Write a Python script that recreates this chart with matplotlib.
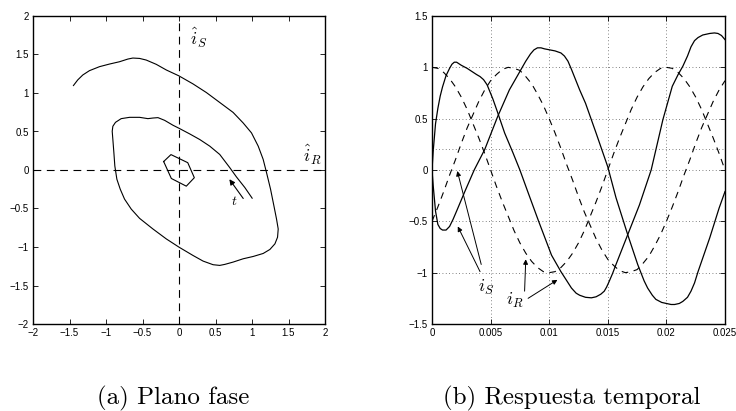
import matplotlib
matplotlib.use("Agg")
import matplotlib.pyplot as plt

plt.rcParams['mathtext.fontset'] = 'cm'
plt.rcParams['font.family'] = ['Liberation Sans', 'DejaVu Sans']

# ---------------- (a) phase plane data ----------------
spiral_x = [-1.446, -1.387, -1.318, -1.227, -1.089, -0.952, -0.815, -0.700, -0.632, -0.540,
            -0.449, -0.311, -0.174, 0.0, 0.192, 0.375, 0.558, 0.741, 0.879, 0.993,
            1.085, 1.153, 1.199, 1.254, 1.300, 1.336, 1.359, 1.350, 1.314, 1.245,
            1.153, 1.016, 0.879, 0.741, 0.627, 0.558, 0.467, 0.330, 0.192, 0.0,
            -0.174, -0.357, -0.540, -0.654, -0.746, -0.805, -0.851, -0.879, -0.892, -0.906,
            -0.915, -0.906, -0.870, -0.792, -0.677, -0.540, -0.426, -0.357, -0.288, -0.197,
            -0.082, 0.0, 0.146, 0.284, 0.421, 0.558, 0.696, 0.787, 0.902, 1.002]
spiral_y = [1.097, 1.170, 1.234, 1.290, 1.342, 1.376, 1.406, 1.441, 1.454, 1.449,
            1.428, 1.372, 1.299, 1.222, 1.118, 1.006, 0.877, 0.748, 0.611, 0.482,
            0.310, 0.138, -0.034, -0.249, -0.465, -0.637, -0.766, -0.873, -0.959, -1.032,
            -1.084, -1.123, -1.153, -1.196, -1.226, -1.239, -1.230, -1.183, -1.110, -1.002,
            -0.895, -0.766, -0.628, -0.508, -0.378, -0.249, -0.120, 0.052, 0.224, 0.396,
            0.503, 0.568, 0.619, 0.667, 0.684, 0.684, 0.667, 0.675, 0.680, 0.645,
            0.581, 0.542, 0.469, 0.396, 0.310, 0.202, 0.030, -0.090, -0.228, -0.366]
hex_x = [-0.21, -0.11, 0.12, 0.21, 0.10, -0.105, -0.21]
hex_y = [0.11, 0.20, 0.095, -0.10, -0.21, -0.11, 0.11]

# ---------------- (b) time response data ----------------
t_ref = [i * 0.0005 for i in range(51)]
ref1 = [1.00, 0.99, 0.95, 0.89, 0.81, 0.71, 0.59, 0.45, 0.31, 0.16, 0.00,
        -0.16, -0.31, -0.45, -0.59, -0.71, -0.81, -0.89, -0.95, -0.99, -1.00,
        -0.99, -0.95, -0.89, -0.81, -0.71, -0.59, -0.45, -0.31, -0.16, 0.00,
        0.16, 0.31, 0.45, 0.59, 0.71, 0.81, 0.89, 0.95, 0.99, 1.00,
        0.99, 0.95, 0.89, 0.81, 0.71, 0.59, 0.45, 0.31, 0.16, 0.00]
ref2 = [-0.50, -0.36, -0.21, -0.05, 0.10, 0.26, 0.41, 0.54, 0.67, 0.78, 0.87,
        0.93, 0.98, 1.00, 0.99, 0.97, 0.91, 0.84, 0.74, 0.63, 0.50,
        0.36, 0.21, 0.05, -0.10, -0.26, -0.41, -0.54, -0.67, -0.78, -0.87,
        -0.93, -0.98, -1.00, -0.99, -0.97, -0.91, -0.84, -0.74, -0.63, -0.50,
        -0.36, -0.21, -0.05, 0.10, 0.26, 0.41, 0.54, 0.67, 0.78, 0.87]

tA = [0, 0.0001, 0.0003, 0.0005, 0.0007, 0.0009, 0.0012, 0.0015, 0.0017, 0.0019, 0.0021,
      0.0025, 0.0030, 0.0034, 0.0038, 0.0041, 0.0044, 0.0047, 0.0052, 0.0056, 0.0062,
      0.0069, 0.0075, 0.0082, 0.0091, 0.0102, 0.0110, 0.0119, 0.0123, 0.0126, 0.0131,
      0.0136, 0.0140, 0.0144, 0.0147, 0.0149, 0.0151, 0.0154, 0.0157, 0.0167, 0.0177,
      0.0187, 0.0197, 0.0205, 0.0210, 0.0214, 0.0218, 0.0221, 0.0224, 0.0227, 0.0231,
      0.0237, 0.0241, 0.0244, 0.0247, 0.0250]
yA = [0.0, 0.18, 0.45, 0.60, 0.72, 0.81, 0.92, 0.99, 1.03, 1.05, 1.05,
      1.02, 0.99, 0.96, 0.93, 0.91, 0.88, 0.83, 0.69, 0.56, 0.36,
      0.17, 0.0, -0.22, -0.50, -0.83, -0.99, -1.15, -1.20, -1.22, -1.24,
      -1.245, -1.235, -1.21, -1.18, -1.14, -1.09, -1.01, -0.92, -0.63, -0.34,
      0.0, 0.49, 0.815, 0.93, 1.01, 1.11, 1.20, 1.26, 1.29, 1.315,
      1.33, 1.335, 1.33, 1.31, 1.27]
tB = [0, 0.0001, 0.0003, 0.0005, 0.0007, 0.0009, 0.0012, 0.0015, 0.0018, 0.0021, 0.0028,
      0.0036, 0.0045, 0.0056, 0.0066, 0.0075, 0.0080, 0.0084, 0.0087, 0.0090, 0.0093,
      0.0096, 0.0105, 0.0110, 0.0113, 0.0116, 0.0119, 0.0126, 0.0131, 0.0140, 0.0150,
      0.0157, 0.0167, 0.01755, 0.0181, 0.0184, 0.0188, 0.0191, 0.0196, 0.0200, 0.0204,
      0.0207, 0.0211, 0.0214, 0.0218, 0.0221, 0.0224, 0.0227, 0.0237, 0.0245, 0.0250]
yB = [0.0, -0.15, -0.40, -0.53, -0.57, -0.585, -0.585, -0.55, -0.48, -0.40, -0.21,
      0.0, 0.20, 0.52, 0.78, 0.96, 1.06, 1.13, 1.17, 1.19, 1.19,
      1.18, 1.16, 1.14, 1.11, 1.06, 0.98, 0.78, 0.65, 0.36, 0.03,
      -0.27, -0.63, -0.92, -1.08, -1.15, -1.22, -1.26, -1.29, -1.30, -1.31,
      -1.31, -1.30, -1.28, -1.24, -1.18, -1.10, -0.99, -0.66, -0.37, -0.21]

ticks_a = [-2, -1.5, -1, -0.5, 0, 0.5, 1, 1.5, 2]
ticklabels_a = ['\u22122', '\u22121.5', '\u22121', '\u22120.5', '0', '0.5', '1', '1.5', '2']
xticks_b = [0, 0.005, 0.01, 0.015, 0.02, 0.025]
xticklabels_b = ['0', '0.005', '0.01', '0.015', '0.02', '0.025']
yticks_b = [-1.5, -1, -0.5, 0, 0.5, 1, 1.5]
yticklabels_b = ['\u22121.5', '\u22121', '\u22120.5', '0', '0.5', '1', '1.5']

W, H = 736, 411
fig = plt.figure(figsize=(W / 100, H / 100), dpi=100)

def style(ax):
    ax.tick_params(direction='in', top=True, right=True, length=3.5, width=0.6,
                   labelsize=7, pad=3)
    for s in ax.spines.values():
        s.set_linewidth(1.0)

# ---- left panel ----
ax1 = fig.add_axes([33 / W, (H - 324) / H, 292 / W, 308 / H])
ax1.plot(spiral_x, spiral_y, color='black', lw=0.8)
ax1.plot(hex_x, hex_y, color='black', lw=0.8)
ax1.axhline(0, color='black', lw=0.8, ls=(0, (7, 5)))
ax1.axvline(0, color='black', lw=0.8, ls=(0, (7, 5)))
ax1.set_xlim(-2, 2)
ax1.set_ylim(-2, 2)
ax1.set_xticks(ticks_a)
ax1.set_xticklabels(ticklabels_a)
ax1.set_yticks(ticks_a)
ax1.set_yticklabels(ticklabels_a)
style(ax1)
ax1.annotate('', xy=(0.69, -0.12), xytext=(0.88, -0.37),
             arrowprops=dict(arrowstyle='-|>', color='black', lw=0.8,
                             mutation_scale=8, shrinkA=0, shrinkB=0))
ax1.text(0.76, -0.40, '$t$', fontsize=10, ha='center', va='center')
ax1.text(0.27, 1.72, r'$\hat{i}_S$', fontsize=13, ha='center', va='center')
ax1.text(1.82, 0.19, r'$\hat{i}_R$', fontsize=13, ha='center', va='center')

# ---- right panel ----
ax2 = fig.add_axes([432 / W, (H - 324) / H, 293 / W, 308 / H])
ax2.plot(t_ref, ref1, color='black', lw=0.8, ls=(0, (6, 5)))
ax2.plot(t_ref, ref2, color='black', lw=0.8, ls=(0, (6, 5)))
ax2.plot(tA, yA, color='black', lw=0.9)
ax2.plot(tB, yB, color='black', lw=0.9)
ax2.set_xlim(0, 0.025)
ax2.set_ylim(-1.5, 1.5)
ax2.set_xticks(xticks_b)
ax2.set_xticklabels(xticklabels_b)
ax2.set_yticks(yticks_b)
ax2.set_yticklabels(yticklabels_b)
ax2.grid(True, color='0.35', lw=0.6, ls=(0, (1, 3)))
ax2.axhline(0.2, color='0.35', lw=0.6, ls=(0, (1, 3)))
style(ax2)
arr = dict(arrowstyle='-|>', color='black', lw=0.7, mutation_scale=7, shrinkA=0, shrinkB=0)
ax2.annotate('', xy=(0.0022, -0.55), xytext=(0.0041, -0.99), arrowprops=arr)
ax2.annotate('', xy=(0.00216, -0.01), xytext=(0.0042, -0.92), arrowprops=arr)
ax2.annotate('', xy=(0.0080, -0.87), xytext=(0.0079, -1.18), arrowprops=arr)
ax2.annotate('', xy=(0.0107, -1.07), xytext=(0.0082, -1.25), arrowprops=arr)
ax2.text(0.0046, -1.14, '$i_S$', fontsize=13, ha='center', va='center')
ax2.text(0.0071, -1.27, '$i_R$', fontsize=13, ha='center', va='center')

# ---- captions ----
fig.text(173 / W, (H - 404) / H, '(a) Plano fase', family='cmr10', fontsize=18,
         ha='center', va='baseline')
fig.text(572 / W, (H - 404) / H, '(b) Respuesta temporal', family='cmr10', fontsize=18,
         ha='center', va='baseline')

fig.savefig('out.png', dpi=100)
